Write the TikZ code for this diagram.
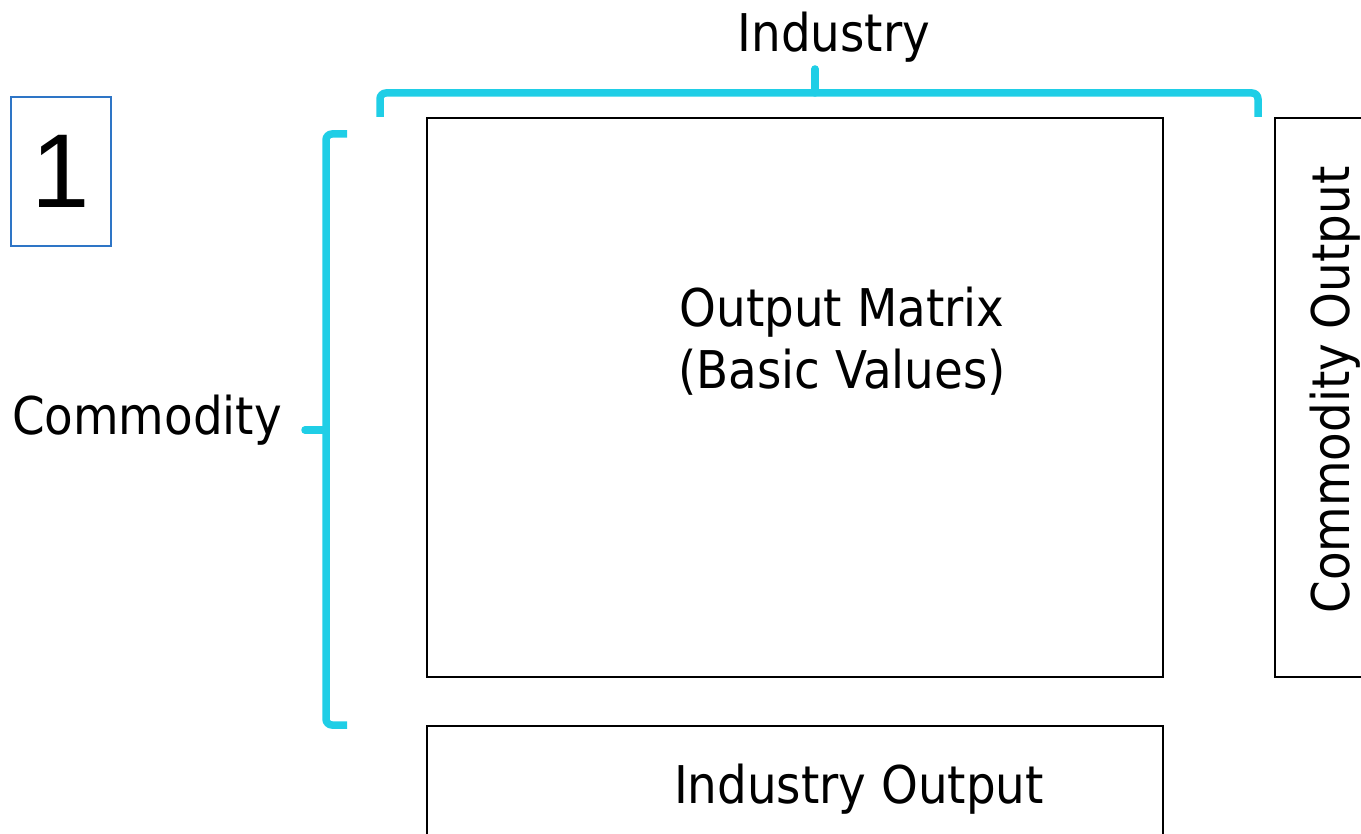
\documentclass[tikz,border=0pt]{standalone}
\usepackage{fontspec}
\setmainfont{DejaVu Sans Condensed}
\newfontfamily\digitfont{Liberation Sans}
\definecolor{bracecyan}{RGB}{31,206,230}
\definecolor{boxblue}{RGB}{46,117,198}
\begin{document}
\begin{tikzpicture}[x=1pt,y=-1pt,
  box/.style={draw=black,line width=2.6pt},
  brace/.style={draw=bracecyan,line width=7.5pt,rounded corners=6pt},
  lbl/.style={font=\fontsize{52}{62}\selectfont,inner sep=0pt,align=center}]
\useasboundingbox (0,0) rectangle (1361,834);
\clip (0,0) rectangle (1361,834);
% number box
\node[draw=boxblue,line width=1.8pt,minimum width=100pt,minimum height=149pt,inner sep=0pt,
  font=\digitfont\fontsize{105}{105}\selectfont] (num) at (61,171.5) {1};
% boxes
\draw[box] (427,118) rectangle (1163,677);
\node[lbl] (om) at (842,341) {Output Matrix\\(Basic Values)};
\draw[box] (1275,118) rectangle (1400,677);
\node[lbl,rotate=90] (co) at (1335,390) {Commodity Output};
\draw[box] (427,726) rectangle (1163,900);
\node[lbl] (io) at (859,789) {Industry Output};
% labels
\node[lbl] (ind) at (834,37) {Industry};
\node[lbl] (com) at (147,420) {Commodity};
% braces
\draw[brace] (380,117) -- (380,93) -- (1258,93) -- (1258,117);
\draw[draw=bracecyan,line width=7.5pt,line cap=round] (815,93) -- (815,69);
\draw[brace] (347,134) -- (326,134) -- (326,725) -- (347,725);
\draw[draw=bracecyan,line width=7.5pt,line cap=round] (326,430) -- (305,430);
\end{tikzpicture}
\end{document}
